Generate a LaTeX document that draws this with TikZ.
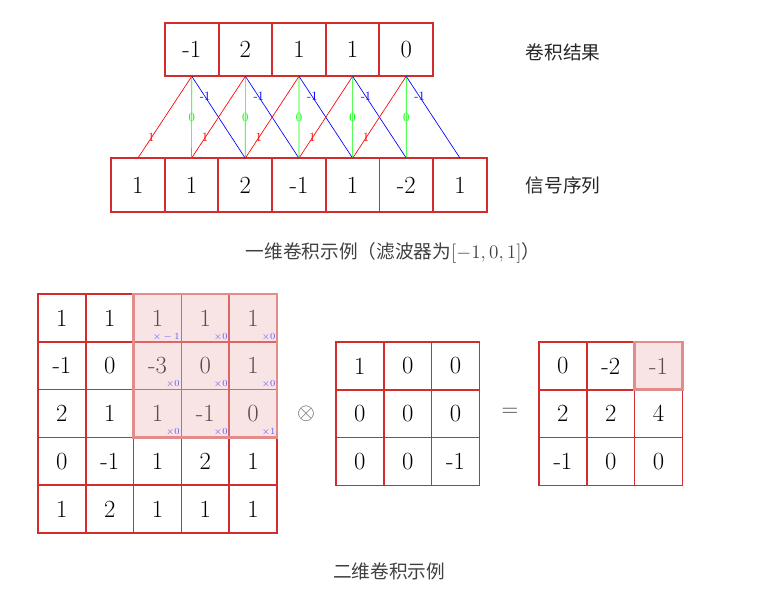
\documentclass[tikz,border=0pt]{standalone}
\usepackage{fontspec}
\newfontfamily\cjk{Noto Sans CJK SC}
\usetikzlibrary{calc}
\definecolor{boxred}{RGB}{212,44,44}
\definecolor{hlfill}{RGB}{237,187,187}
\definecolor{hlborder}{RGB}{226,140,140}
\definecolor{mblue}{RGB}{90,90,255}
\begin{document}
\begin{tikzpicture}[x=0.75pt,y=-0.75pt,
  numfont/.style={font=\fontsize{18.5}{22}\selectfont},
  topbox/.style={draw=boxred, line width=1.4pt, minimum size=40.2pt, inner sep=0pt, outer sep=0pt, numfont},
  cell/.style={draw=boxred, line width=1.1pt, minimum size=35.85pt, inner sep=0pt, outer sep=0pt, numfont},
  wlab/.style={font=\fontsize{9.5}{11}\selectfont, inner sep=0.5pt},
  mlab/.style={font=\fontsize{7.5}{9}\selectfont, text=mblue, anchor=south east, inner sep=1pt},
  zh/.style={font=\cjk\fontsize{14}{16}\selectfont},
  conn/.style={line width=0.5pt},
]
\useasboundingbox (0,0) rectangle (779,610);

% ---------- 1D convolution ----------
\foreach \v [count=\i] in {-1,2,1,1,0}
  \node[topbox] (t\i) at ({165+53.6*(\i-0.5)},49.5) {\v};
\foreach \v [count=\i] in {1,1,2,-1,1,-2,1}
  \node[topbox] (b\i) at ({111+53.7*(\i-0.5)},185) {\v};

\foreach \i in {1,...,5}{
  \pgfmathtruncatemacro\j{\i+1}
  \pgfmathtruncatemacro\k{\i+2}
  \draw[conn, red] (t\i.south) -- node[wlab, text=red, pos=0.75] {1} (b\i.north);
  \draw[conn, green] (t\i.south) -- node[wlab, text=green, pos=0.5] {0} (b\j.north);
  \draw[conn, blue] (t\i.south) -- node[wlab, text=blue, pos=0.25] {-1} (b\k.north);
}

\node[zh, text=black!85] (lres) at (563,52) {卷积结果};
\node[zh, text=black!85] (lsig) at (563,185) {信号序列};
\node[zh, text=black!75] (cap1) at (393,253) {一维卷积示例（滤波器为$[-1,0,1]$）};

% ---------- 2D convolution ----------
% input 5x5
\foreach \row [count=\r] in {{1,1,1,1,1},{-1,0,-3,0,1},{2,1,1,-1,0},{0,-1,1,2,1},{1,2,1,1,1}}{
  \foreach \v [count=\c] in \row
    \node[cell] (L-\r-\c) at ({38+47.8*(\c-0.5)},{294+47.8*(\r-0.5)}) {\v};
}
% highlight
\fill[hlfill, fill opacity=0.4] (L-1-3.north west) rectangle (L-3-5.south east);
\draw[hlborder, line width=2.2pt] (L-1-3.north west) rectangle (L-3-5.south east);
% multiplier labels
\node[mlab] (m11) at (L-1-3.south east) {$\times -1$};
\node[mlab] (m12) at (L-1-4.south east) {$\times 0$};
\node[mlab] (m13) at (L-1-5.south east) {$\times 0$};
\node[mlab] (m21) at (L-2-3.south east) {$\times 0$};
\node[mlab] (m22) at (L-2-4.south east) {$\times 0$};
\node[mlab] (m23) at (L-2-5.south east) {$\times 0$};
\node[mlab] (m31) at (L-3-3.south east) {$\times 0$};
\node[mlab] (m32) at (L-3-4.south east) {$\times 0$};
\node[mlab] (m33) at (L-3-5.south east) {$\times 1$};

% kernel 3x3
\foreach \row [count=\r] in {{1,0,0},{0,0,0},{0,0,-1}}{
  \foreach \v [count=\c] in \row
    \node[cell] (K-\r-\c) at ({336+47.8*(\c-0.5)},{342+47.8*(\r-0.5)}) {\v};
}
% result 3x3
\foreach \row [count=\r] in {{0,-2,-1},{2,2,4},{-1,0,0}}{
  \foreach \v [count=\c] in \row
    \node[cell] (R-\r-\c) at ({539+47.8*(\c-0.5)},{342+47.8*(\r-0.5)}) {\v};
}
\fill[hlfill, fill opacity=0.4] (R-1-3.north west) rectangle (R-1-3.south east);
\draw[hlborder, line width=2.2pt] (R-1-3.north west) rectangle (R-1-3.south east);

\node[numfont, text=black!65] (otimes) at (306,414) {$\otimes$};
\node[numfont, text=black!75] (eq) at (510,412) {$=$};

\node[zh, text=black!75] (cap2) at (389,571) {二维卷积示例};
\end{tikzpicture}
\end{document}
